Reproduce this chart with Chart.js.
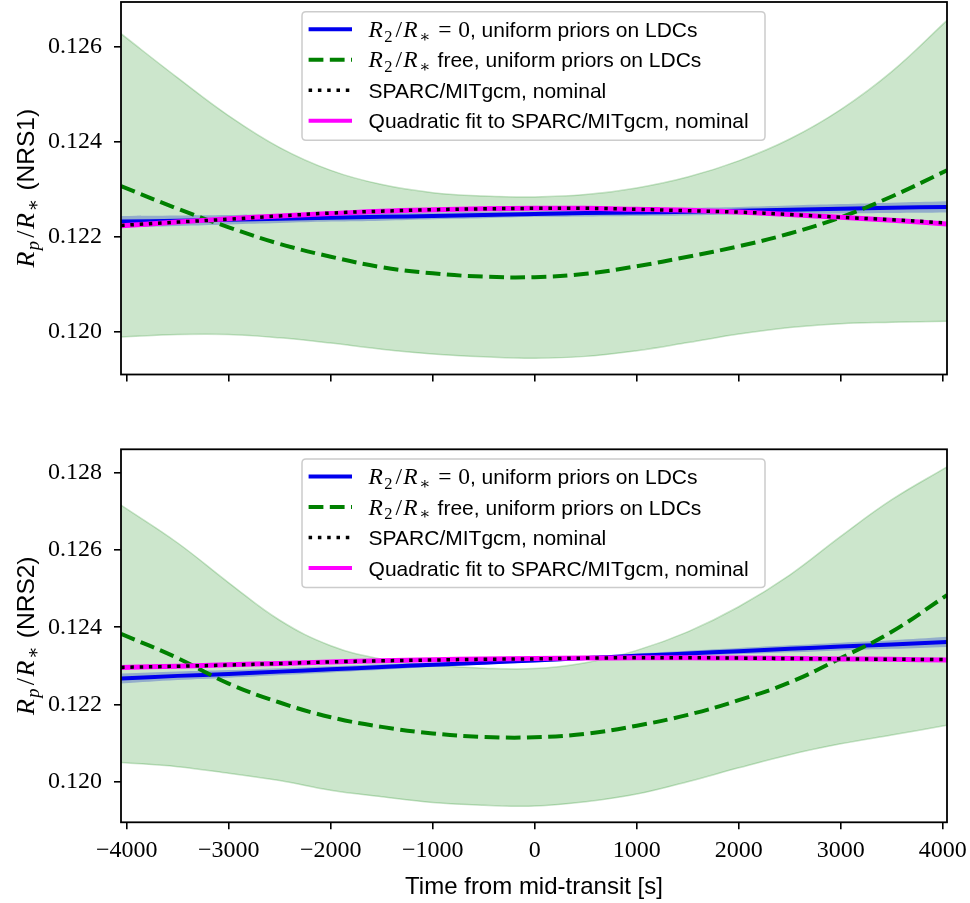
<!DOCTYPE html>
<html><head><meta charset="utf-8">
<script src="https://cdn.jsdelivr.net/npm/chart.js@4.4.1/dist/chart.umd.min.js"></script>
<style>
html,body{margin:0;padding:0;background:#fff;}
#wrap{position:relative;width:970px;height:903px;overflow:hidden;}
canvas{position:absolute;left:0;}
</style></head><body>
<div id="wrap">
<canvas id="c1" width="970" height="420" style="top:0;width:970px;height:420px"></canvas>
<canvas id="c2" width="970" height="483" style="top:420px;width:970px;height:483px"></canvas>
</div>
<script>
// ---------------- data ----------------
const times = [-4056,-3500,-3000,-2500,-2000,-1500,-1000,-500,0,500,1000,1500,2000,2500,3000,3500,4042];
const xTickValues = [-4000,-3000,-2000,-1000,0,1000,2000,3000,4000];
const yTicksNRS1 = [0.120,0.122,0.124,0.126];
const yTicksNRS2 = [0.120,0.122,0.124,0.126,0.128];
const xAxisTitle = "Time from mid-transit [s]";
const yTitles = ["$R_p/R_*$ (NRS1)", "$R_p/R_*$ (NRS2)"];
const legendLabels = [
  "$R_2/R_*=0$, uniform priors on LDCs",
  "$R_2/R_*$ free, uniform priors on LDCs",
  "SPARC/MITgcm, nominal",
  "Quadratic fit to SPARC/MITgcm, nominal"
];

// NRS1
const nrs1Fixed   = [0.12232,0.12234,0.12236,0.12238,0.12240,0.12242,0.12244,0.12246,0.12248,0.12250,0.12251,0.12253,0.12255,0.12257,0.12259,0.12261,0.12263];
const nrs1FixedHi = [0.12244,0.12245,0.12246,0.12247,0.12248,0.12250,0.12251,0.12253,0.12254,0.12257,0.12258,0.12261,0.12263,0.12266,0.12269,0.12272,0.12275];
const nrs1FixedLo = [0.12220,0.12223,0.12226,0.12229,0.12232,0.12234,0.12237,0.12239,0.12242,0.12243,0.12244,0.12245,0.12247,0.12248,0.12249,0.12250,0.12251];
const nrs1Free    = [0.12307,0.12259,0.12220,0.12185,0.12158,0.12136,0.12123,0.12116,0.12115,0.12122,0.12138,0.12158,0.12180,0.12207,0.12241,0.12285,0.12340];
const nrs1FreeHi  = [0.12628,0.12535,0.12455,0.12388,0.12340,0.12310,0.12293,0.12286,0.12284,0.12289,0.12303,0.12326,0.12360,0.12406,0.12468,0.12548,0.12656];
const nrs1FreeLo  = [0.11989,0.11994,0.11994,0.11987,0.11976,0.11963,0.11953,0.11947,0.11944,0.11948,0.11960,0.11977,0.11995,0.12009,0.12017,0.12020,0.12022];
const nrs1Sparc   = [0.12224,0.12231,0.12237,0.12244,0.12250,0.12254,0.12257,0.12259,0.12260,0.12260,0.12258,0.12255,0.12252,0.12247,0.12241,0.12236,0.12229];
const nrs1Quad    = [0.12223,0.12231,0.12238,0.12244,0.12249,0.12254,0.12257,0.12259,0.12260,0.12260,0.12258,0.12256,0.12252,0.12247,0.12241,0.12235,0.12227];

// NRS2
const nrs2Fixed   = [0.12267,0.12274,0.12279,0.12285,0.12291,0.12297,0.12303,0.12308,0.12314,0.12320,0.12326,0.12332,0.12338,0.12344,0.12350,0.12355,0.12362];
const nrs2FixedHi = [0.12280,0.12285,0.12289,0.12294,0.12299,0.12304,0.12309,0.12313,0.12319,0.12325,0.12332,0.12339,0.12346,0.12353,0.12360,0.12366,0.12375];
const nrs2FixedLo = [0.12254,0.12263,0.12269,0.12276,0.12283,0.12290,0.12297,0.12303,0.12309,0.12315,0.12320,0.12325,0.12330,0.12335,0.12340,0.12344,0.12349];
const nrs2Free    = [0.12383,0.12320,0.12254,0.12205,0.12167,0.12142,0.12125,0.12116,0.12115,0.12124,0.12145,0.12173,0.12211,0.12257,0.12320,0.12388,0.12483];
const nrs2FreeHi  = [0.12716,0.12618,0.12515,0.12418,0.12352,0.12317,0.12302,0.12294,0.12293,0.12308,0.12340,0.12388,0.12453,0.12535,0.12635,0.12730,0.12815];
const nrs2FreeLo  = [0.12050,0.12039,0.12022,0.12003,0.11978,0.11961,0.11946,0.11939,0.11937,0.11948,0.11968,0.12000,0.12036,0.12070,0.12098,0.12121,0.12146];
const nrs2Sparc   = [0.12296,0.12299,0.12302,0.12306,0.12310,0.12313,0.12315,0.12317,0.12318,0.12320,0.12321,0.12321,0.12320,0.12319,0.12318,0.12317,0.12316];
const nrs2Quad    = [0.12296,0.12299,0.12303,0.12306,0.12310,0.12313,0.12316,0.12318,0.12319,0.12320,0.12321,0.12321,0.12320,0.12319,0.12318,0.12317,0.12315];

// ---------------- styling ----------------
const SERIF = "'Liberation Serif','DejaVu Serif',serif";
const SANS = "'Liberation Sans','DejaVu Sans',sans-serif";
const C_BLUE = '#0000ee', C_GREEN = '#008000', C_MAG = '#ff00ff', C_BLACK = '#000000';
const DASH = [14.8, 6.4], DOT = [3.5, 5.8];

const legendStyles = [
  {color: C_BLUE, width: 4, dash: []},
  {color: C_GREEN, width: 4, dash: DASH},
  {color: C_BLACK, width: 3.5, dash: DOT},
  {color: C_MAG, width: 4, dash: []}
];

function parseRich(str){
  const parts = str.split('$'); const segs = [];
  parts.forEach((p,i)=>{
    if (i % 2 === 0) { if (p) segs.push({t:p, kind:'sans'}); return; }
    for (let k = 0; k < p.length; k++) {
      const c = p[k];
      if (c === '_') { k++; const s = p[k]; segs.push({t: s === '*' ? '\u2217' : s, kind: /[A-Za-z]/.test(s) ? 'isub' : 'sub'}); continue; }
      if (c === ' ') continue;
      if (c === '=') { segs.push({t:'=', kind:'rel'}); continue; }
      if (c === '/') { segs.push({t:'/', kind:'slash'}); continue; }
      segs.push({t:c, kind: /[A-Za-z]/.test(c) ? 'it' : 'rm'});
    }
  });
  return segs;
}
function drawRich(ctx, segs, x, y, sz, doDraw){
  let cx = x;
  const sp = sz.math * 0.06;
  for (const s of segs) {
    let font, dy = 0, pre = 0, post = 0;
    if (s.kind === 'sans') font = sz.sans + 'px ' + SANS;
    else if (s.kind === 'it') { font = 'italic ' + sz.math + 'px ' + SERIF; post = sp; }
    else if (s.kind === 'rm') font = sz.math + 'px ' + SERIF;
    else if (s.kind === 'slash') { font = sz.math + 'px ' + SERIF; pre = sp; post = sp; }
    else if (s.kind === 'rel') { font = sz.math + 'px ' + SERIF; pre = sz.math * 0.28; post = sz.math * 0.28; }
    else if (s.kind === 'isub') { font = 'italic ' + sz.sub + 'px ' + SERIF; dy = sz.math * 0.2; post = sp; }
    else { font = sz.sub + 'px ' + SERIF; dy = sz.math * 0.2; post = sp; }
    ctx.font = font;
    cx += pre;
    if (doDraw) ctx.fillText(s.t, cx, y + dy);
    cx += ctx.measureText(s.t).width + post;
  }
  return cx - x;
}

const framePlugin = {
  id: 'frame',
  afterDatasetsDraw(chart){
    const {ctx, chartArea:a} = chart;
    ctx.save(); ctx.strokeStyle = '#000'; ctx.lineWidth = 1.8;
    ctx.strokeRect(a.left, a.top, a.right - a.left, a.bottom - a.top);
    ctx.restore();
  }
};

const decorPlugin = {
  id: 'decor',
  afterDraw(chart, args, opts){
    const ctx = chart.ctx, a = chart.chartArea;
    ctx.save();
    // y title
    const segsY = parseRich(opts.yTitle);
    const szY = {math: 26, sub: 18.5, sans: 24.5};
    const w = drawRich(ctx, segsY, 0, 0, szY, false);
    ctx.translate(25, (a.top + a.bottom) / 2);
    ctx.rotate(-Math.PI / 2);
    ctx.fillStyle = '#000'; ctx.textBaseline = 'alphabetic';
    drawRich(ctx, segsY, -w / 2, 8.5, szY, true);
    ctx.restore();

    // legend
    ctx.save();
    const bx = a.left + 181, by = a.top + 9.8, bw = 463, bh = 128.5, r = 4;
    ctx.beginPath();
    ctx.moveTo(bx + r, by); ctx.lineTo(bx + bw - r, by); ctx.quadraticCurveTo(bx + bw, by, bx + bw, by + r);
    ctx.lineTo(bx + bw, by + bh - r); ctx.quadraticCurveTo(bx + bw, by + bh, bx + bw - r, by + bh);
    ctx.lineTo(bx + r, by + bh); ctx.quadraticCurveTo(bx, by + bh, bx, by + bh - r);
    ctx.lineTo(bx, by + r); ctx.quadraticCurveTo(bx, by, bx + r, by);
    ctx.closePath();
    ctx.fillStyle = 'rgba(255,255,255,0.8)'; ctx.fill();
    ctx.strokeStyle = '#cccccc'; ctx.lineWidth = 1.5; ctx.stroke();
    const rows = [17.5, 48, 78.5, 109];
    const szL = {math: 23.5, sub: 16.5, sans: 21};
    legendLabels.forEach((lab, i) => {
      const yy = by + rows[i];
      const st = legendStyles[i];
      ctx.beginPath(); ctx.setLineDash(st.dash); ctx.lineCap = 'butt';
      ctx.strokeStyle = st.color; ctx.lineWidth = st.width;
      ctx.moveTo(bx + 6.6, yy); ctx.lineTo(bx + 50, yy); ctx.stroke();
      ctx.setLineDash([]);
      ctx.fillStyle = '#000'; ctx.textBaseline = 'alphabetic';
      drawRich(ctx, parseRich(lab), bx + 66.6, yy + 7.5, szL, true);
    });
    ctx.restore();
  }
};

function pts(arr){ return times.map((t, i) => ({x: t, y: arr[i]})); }

function makeDatasets(d){
  return [
    {data: pts(d.sparc), borderColor: C_BLACK, borderWidth: 3.5, borderDash: DOT, borderCapStyle: 'butt', fill: false},
    {data: pts(d.quad), borderColor: C_MAG, borderWidth: 5, fill: false},
    {data: pts(d.free), borderColor: C_GREEN, borderWidth: 4, borderDash: DASH, borderCapStyle: 'butt', fill: false},
    {data: pts(d.fixed), borderColor: C_BLUE, borderWidth: 4, fill: false},
    {data: pts(d.fixedHi), borderColor: 'rgba(0,0,0,0)', borderWidth: 0, backgroundColor: 'rgba(40,70,200,0.35)', fill: '+1'},
    {data: pts(d.fixedLo), borderColor: 'rgba(0,0,0,0)', borderWidth: 0, fill: false},
    {data: pts(d.freeHi), borderColor: 'rgba(0,128,0,0.22)', borderWidth: 1.5, backgroundColor: 'rgba(0,128,0,0.2)', fill: '+1'},
    {data: pts(d.freeLo), borderColor: 'rgba(0,128,0,0.22)', borderWidth: 1.5, fill: false}
  ];
}

function makeChart(id, d, yMin, yMax, yTicks, showXLabels, padTop, xAxisH, yTitle){
  const gridOpts = {drawOnChartArea: false, drawTicks: true, tickLength: 7, tickColor: '#000', tickWidth: 1.6, color: '#000', lineWidth: 1.6};
  return new Chart(document.getElementById(id), {
    type: 'line',
    data: {datasets: makeDatasets(d)},
    options: {
      responsive: false, animation: false, devicePixelRatio: 1,
      layout: {padding: {top: padTop, right: 23, left: 0, bottom: 0}},
      elements: {point: {radius: 0, hoverRadius: 0}, line: {tension: 0.4, cubicInterpolationMode: 'default'}},
      plugins: {legend: {display: false}, tooltip: {enabled: false}, decor: {yTitle: yTitle}},
      events: [],
      scales: {
        x: {
          type: 'linear', min: -4056, max: 4042,
          afterBuildTicks: s => { s.ticks = xTickValues.map(v => ({value: v})); },
          afterFit: s => { s.height = xAxisH; s.paddingLeft = 0; s.paddingRight = 0; },
          grid: gridOpts, border: {display: false},
          ticks: {display: showXLabels, autoSkip: false, maxRotation: 0, padding: 7, color: '#000',
                  font: {family: SERIF, size: 24, lineHeight: 1.2},
                  callback: v => v < 0 ? '\u2212' + Math.abs(v) : String(v)},
          title: {display: showXLabels, text: xAxisTitle, color: '#000', font: {family: SANS, size: 24, lineHeight: 1.2}, padding: {top: 0, bottom: 1.5}}
        },
        y: {
          type: 'linear', min: yMin, max: yMax,
          afterBuildTicks: s => { s.ticks = yTicks.map(v => ({value: v})); },
          afterFit: s => { s.width = 121; s.paddingTop = 0; s.paddingBottom = 0; },
          grid: gridOpts, border: {display: false},
          ticks: {padding: 12, color: '#000', font: {family: SERIF, size: 24}, callback: v => Number(v).toFixed(3)}
        }
      }
    },
    plugins: [framePlugin, decorPlugin]
  });
}

makeChart('c1', {fixed: nrs1Fixed, fixedHi: nrs1FixedHi, fixedLo: nrs1FixedLo, free: nrs1Free, freeHi: nrs1FreeHi, freeLo: nrs1FreeLo, sparc: nrs1Sparc, quad: nrs1Quad},
  0.119098, 0.126948, yTicksNRS1, false, 2, 45.5, yTitles[0]);
makeChart('c2', {fixed: nrs2Fixed, fixedHi: nrs2FixedHi, fixedLo: nrs2FixedLo, free: nrs2Free, freeHi: nrs2FreeHi, freeLo: nrs2FreeLo, sparc: nrs2Sparc, quad: nrs2Quad},
  0.118949, 0.128606, yTicksNRS2, true, 29.3, 80.7, yTitles[1]);
</script>
</body></html>
